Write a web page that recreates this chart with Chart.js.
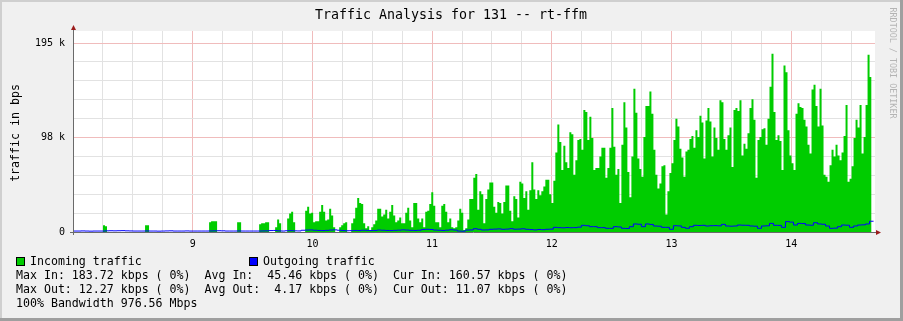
<!DOCTYPE html>
<html><head><meta charset="utf-8">
<script src="https://cdn.jsdelivr.net/npm/chart.js@4.4.1/dist/chart.umd.min.js"></script>
<style>html,body{margin:0;padding:0;background:#f0f0f0;}canvas{display:block}</style>
</head><body>
<canvas id="c" width="903" height="321"></canvas>
<script>
// ---------- data ----------
const titleText = 'Traffic Analysis for 131 -- rt-ffm';
const yAxisTitle = 'traffic in bps';
const watermark = 'RRDTOOL / TOBI OETIKER';
const seriesNames = ['Incoming traffic', 'Outgoing traffic'];
const startTime = 8.0;          // x value of first sample
const inStep = 0.01672;         // x units per incoming sample
const outStep = 0.03344;        // x units per outgoing sample
// incoming traffic, k bps
const incoming = [
0,0,0,0,0,0,0,0,0,0,0,0,0,0,0,7,6,0,0,0,
0,0,0,0,0,0,0,0,0,0,0,0,0,0,0,0,7,7,0,0,
0,0,0,0,0,0,0,0,0,0,0,0,0,0,0,0,0,0,0,0,
0,0,0,0,0,0,0,0,10,11,11,11,0,0,0,0,0,0,0,0,
0,0,10,10,0,0,0,0,0,0,0,0,0,8,9,9,10,10,0,0,
0,5,13,9,0,0,0,14,19,21,10,0,0,0,0,0,22,26,19,20,
10,11,11,21,28,21,12,13,24,17,5,0,0,5,7,9,10,0,0,9,
14,25,35,30,29,9,4,6,2,5,8,12,24,24,16,18,23,14,21,28,
17,10,12,15,9,9,20,25,12,5,30,30,14,10,14,5,21,22,29,41,
27,10,10,5,27,29,21,10,14,5,4,
5,12,24,20,2,4,13,34,34,56,60,23,42,39,9,34,44,51,51,26,20,31,30,19,31,48,48,22,11,37,34,15,52,50,35,
42,23,43,72,44,34,43,38,42,47,54,54,39,30,53,82,111,93,64,89,72,66,103,101,59,74,95,96,85,126,124,95,119,97,64,
66,66,78,87,87,56,66,87,128,88,59,65,30,90,134,108,62,36,78,148,123,76,65,57,98,130,130,145,122,85,59,45,50,68,69,
18,42,61,71,95,117,109,86,77,57,83,85,96,99,87,105,98,120,113,76,115,128,114,78,108,97,85,136,134,96,85,100,108,67,126,
128,125,136,79,91,86,102,128,137,116,56,95,98,106,107,90,117,150,184,124,95,100,94,64,172,165,105,79,71,64,122,133,129,128,116,
109,90,81,147,152,130,109,148,110,59,57,52,69,85,78,90,79,74,82,99,131,52,55,68,97,116,108,131,81,98,131,183,160
];
// outgoing traffic, k bps
const outgoing = [
1.0,1.0,1.1,1.0,0.9,1.0,1.0,1.0,1.2,1.3,1.2,1.3,1.4,1.2,1.1,1.0,1.0,1.0,1.1,1.0,
1.0,0.9,1.0,1.1,1.2,1.0,1.0,1.0,1.1,1.0,1.0,1.0,1.0,1.0,1.1,1.2,1.3,1.2,1.0,1.0,
1.0,1.1,1.0,1.0,1.0,1.0,1.0,1.1,1.2,1.5,1.6,1.2,1.0,1.3,1.4,1.2,1.1,
1.8,2.0,2.1,1.8,1.6,1.5,1.7,2.0,2.2,1.8,1.5,1.3,1.4,1.6,1.5,1.8,1.7,1.5,1.6,2.0,
1.8,1.6,1.5,1.7,1.9,2.2,2.0,1.7,1.6,1.8,2.5,2.8,2.6,2.0,1.8,1.6,1.9,2.3,2.0,
1.0,0.8,2.0,2.1,3.4,2.8,2.1,2.2,2.8,3.0,3.2,2.8,3.0,3.4,2.9,3.0,3.3,2.8,
2.5,2.2,2.6,2.4,2.8,3.0,4.8,4.5,4.3,4.6,4.4,4.5,5.0,6.9,6.5,5.5,5.5,
4.5,4.5,3.8,3.8,5.5,5.2,3.8,3.6,5.5,8.3,8.0,5.5,8.3,7.8,6.2,6.0,4.8,4.8,
2.8,6.5,6.3,4.8,3.8,5.5,6.9,6.7,6.9,6.2,6.5,6.6,6.4,7.9,6.2,6.0,6.2,
7.2,7.0,6.9,6.2,6.0,3.8,6.2,6.4,8.9,6.9,6.8,4.8,10.7,10.2,7.2,8.9,8.7,
7.2,7.0,9.6,8.3,8.0,6.2,3.8,4.0,5.5,7.2,7.0,4.8,6.2,7.2,7.4,8.3,11.1
];
const xMin = 8.0, xMax = 14.7;
const xTickLabels = ['9', '10', '11', '12', '13', '14'];
const yMax = 207.5;
const yGridStep = 19.5;
const yTickLabels = { 0: '0', 97.5: '98 k', 195: '195 k' };
const statsLines = [
  'Max In: 183.72 kbps ( 0%)  Avg In:  45.46 kbps ( 0%)  Cur In: 160.57 kbps ( 0%)',
  'Max Out: 12.27 kbps ( 0%)  Avg Out:  4.17 kbps ( 0%)  Cur Out: 11.07 kbps ( 0%)',
  '100% Bandwidth 976.56 Mbps'
];

// ---------- build ----------
function toSteps(vals, step) {
  const pts = vals.map((v, i) => ({ x: startTime + i * step, y: v }));
  pts.push({ x: startTime + vals.length * step, y: vals[vals.length - 1] });
  return pts;
}
const MONO = '"DejaVu Sans Mono", monospace';
const GREEN = '#00cc00', BLUE = '#0000ff';
const MINOR = '#e2e2e2', MAJOR = '#f0bcbc';

const rrdPlugin = {
  id: 'rrd',
  beforeDraw(chart) {
    const c = chart.ctx, a = chart.chartArea;
    c.save();
    c.fillStyle = '#f0f0f0'; c.fillRect(0, 0, 903, 321);
    // 3d frame
    c.fillStyle = '#cfcfcf'; c.fillRect(0, 0, 903, 2); c.fillRect(0, 0, 2, 321);
    c.fillStyle = '#9f9f9f'; c.fillRect(0, 318, 903, 3); c.fillRect(900, 0, 3, 321);
    c.fillStyle = '#ffffff'; c.fillRect(a.left, a.top, a.right - a.left, a.bottom - a.top);
    c.restore();
  },
  afterDatasetsDraw(chart) {
    const c = chart.ctx, a = chart.chartArea;
    c.save();
    // axes
    c.strokeStyle = '#6a6a6a'; c.lineWidth = 1;
    c.beginPath(); c.moveTo(a.left + 0.5, a.bottom + 3); c.lineTo(a.left + 0.5, a.top - 3); c.stroke();
    c.beginPath(); c.moveTo(a.left - 3, a.bottom + 0.5); c.lineTo(a.right + 2, a.bottom + 0.5); c.stroke();
    c.fillStyle = '#9b1c1c';
    c.beginPath(); c.moveTo(a.left - 2, a.top - 1); c.lineTo(a.left + 3, a.top - 1); c.lineTo(a.left + 0.5, a.top - 6); c.closePath(); c.fill();
    c.beginPath(); c.moveTo(a.right + 1, a.bottom - 2); c.lineTo(a.right + 1, a.bottom + 3); c.lineTo(a.right + 6, a.bottom + 0.5); c.closePath(); c.fill();
    // title
    c.fillStyle = '#000';
    c.font = '13.3px ' + MONO; c.textAlign = 'center'; c.textBaseline = 'middle';
    c.fillText(titleText, 451, 16);
    // y axis title
    c.font = '11.6px ' + MONO;
    c.save(); c.translate(16, 133); c.rotate(-Math.PI / 2); c.fillText(yAxisTitle, 0, 0); c.restore();
    // watermark
    c.save(); c.fillStyle = '#b4b4b4'; c.font = '8.4px ' + MONO;
    c.translate(892, 63); c.rotate(Math.PI / 2); c.fillText(watermark, 0, 0); c.restore();
    // legend
    c.textAlign = 'left'; c.textBaseline = 'middle';
    const sq = [[16, GREEN, 30], [249, BLUE, 263]];
    sq.forEach((s, i) => {
      c.fillStyle = s[1]; c.fillRect(s[0], 257, 8, 8);
      c.strokeStyle = '#000'; c.strokeRect(s[0] + 0.5, 257.5, 8, 8);
      c.fillStyle = '#000'; c.fillText(seriesNames[i], s[2], 261.5);
    });
    statsLines.forEach((t, i) => c.fillText(t, 16, 275.5 + i * 14));
    c.restore();
  }
};

const yTicks = [];
for (let v = 0; v <= 195 + 1e-9; v += yGridStep) yTicks.push(Math.round(v * 10) / 10);
const xTicks = [];
for (let v = xMin + 0.25; v < xMax; v += 0.25) xTicks.push(v);

new Chart(document.getElementById('c'), {
  type: 'line',
  data: {
    datasets: [
      { label: seriesNames[0], data: toSteps(incoming, inStep), stepped: true, fill: 'origin',
        backgroundColor: GREEN, borderColor: 'rgba(0,0,0,0)', borderWidth: 0, pointRadius: 0, order: 2 },
      { label: seriesNames[1], data: toSteps(outgoing, outStep), stepped: true, fill: false,
        borderColor: BLUE, borderWidth: 1, pointRadius: 0, order: 1 }
    ]
  },
  options: {
    responsive: false, animation: false, events: [],
    layout: { padding: { left: 0, top: 31, right: 28, bottom: 0 } },
    plugins: { legend: { display: false }, tooltip: { enabled: false }, title: { display: false } },
    scales: {
      x: {
        type: 'linear', min: xMin, max: xMax,
        afterBuildTicks: s => { s.ticks = xTicks.map(v => ({ value: v })); },
        afterFit: s => { s.height = 89; },
        grid: { drawTicks: false, lineWidth: 1,
          color: ctx => Math.abs(ctx.tick.value - Math.round(ctx.tick.value)) < 1e-6 ? MAJOR : MINOR },
        border: { display: false },
        ticks: { autoSkip: false, maxRotation: 0, padding: 6, color: '#000', font: { family: MONO, size: 10 },
          callback: v => {
            const r = Math.round(v);
            return Math.abs(v - r) < 1e-6 && xTickLabels.includes(String(r)) ? String(r) : '';
          } }
      },
      y: {
        min: 0, max: yMax,
        afterBuildTicks: s => { s.ticks = yTicks.map(v => ({ value: v })); },
        afterFit: s => { s.width = 73; },
        grid: { drawTicks: false, lineWidth: 1,
          color: ctx => ctx.tick.value === 0 ? 'rgba(0,0,0,0)' : (yTickLabels[ctx.tick.value] ? MAJOR : MINOR) },
        border: { display: false },
        ticks: { autoSkip: false, padding: 8, color: '#000', font: { family: MONO, size: 10 },
          callback: v => yTickLabels[v] || '' }
      }
    }
  },
  plugins: [rrdPlugin]
});
</script>
</body></html>
